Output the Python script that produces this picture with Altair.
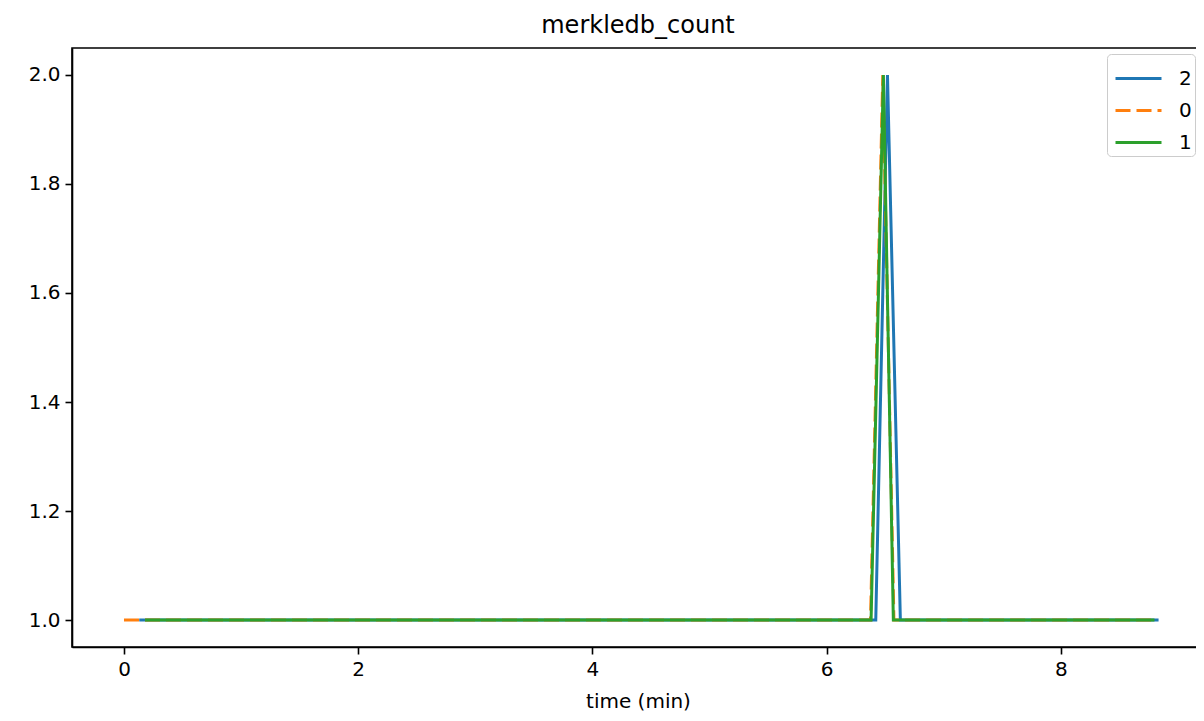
import altair as alt
import pandas as pd

# series "2" (blue)
t2 = [0.13, 6.42, 6.52, 6.63, 8.835]
v2 = [1.0, 1.0, 2.0, 1.0, 1.0]
# series "0" (orange, dashed)
t0 = [0.0, 6.375, 6.48, 6.575, 8.80]
v0 = [1.0, 1.0, 2.0, 1.0, 1.0]
# series "1" (green)
t1 = [0.18, 6.38, 6.485, 6.57, 8.80]
v1 = [1.0, 1.0, 2.0, 1.0, 1.0]

series_order = ["2", "0", "1"]
colors = ["#1f77b4", "#ff7f0e", "#2ca02c"]
dashes = [[1, 0], [15, 6], [1, 0]]

rows = []
for name, ts, vs in [("2", t2, v2), ("0", t0, v0), ("1", t1, v1)]:
    for i, (t, v) in enumerate(zip(ts, vs)):
        rows.append({"series": name, "time": t, "value": v, "i": i})
df = pd.DataFrame(rows)

FONT = "DejaVu Sans"
xscale = alt.Scale(domain=[-0.444, 9.223], nice=False, zero=False)

x = alt.X("time:Q", title="time (min)", scale=xscale,
          axis=alt.Axis(values=[0, 2, 4, 6, 8], format="d", grid=False,
                        tickSize=7, tickWidth=1.6, domainWidth=1.6,
                        domainColor="black", tickColor="black",
                        labelFontSize=20, labelColor="black", labelFont=FONT,
                        labelPadding=5, titleFontSize=20, titleFont=FONT,
                        titleFontWeight="normal", titleColor="black",
                        titlePadding=12))
y = alt.Y("value:Q", title=None,
          scale=alt.Scale(domain=[0.9505, 2.0495], nice=False, zero=False),
          axis=alt.Axis(values=[1.0, 1.2, 1.4, 1.6, 1.8, 2.0], format=".1f",
                        grid=False, tickSize=7, tickWidth=1.6, domainWidth=1.6,
                        domainColor="black", tickColor="black",
                        labelFontSize=20, labelColor="black", labelFont=FONT,
                        labelPadding=5))
color = alt.Color("series:N",
                  scale=alt.Scale(domain=series_order, range=colors),
                  sort=series_order,
                  legend=alt.Legend(title=None, orient="none",
                                    legendX=1035, legendY=6,
                                    symbolType="M-1.15,0H1.15", symbolSize=1600,
                                    symbolStrokeWidth=3, symbolOffset=7,
                                    labelFontSize=20, labelFont=FONT,
                                    labelColor="black", labelOffset=19,
                                    strokeColor="#cccccc", fillColor="white",
                                    cornerRadius=4, padding=3, rowPadding=0))
dash = alt.StrokeDash("series:N",
                      scale=alt.Scale(domain=series_order, range=dashes),
                      sort=series_order, legend=None)

layers = []
for name in series_order:
    layers.append(
        alt.Chart(df).transform_filter(alt.datum.series == name)
        .mark_line(strokeWidth=3, clip=True)
        .encode(x=x, y=y, color=color, strokeDash=dash, order="i:Q")
    )

chart = alt.layer(*layers).properties(
    width=1132, height=599,
    title=alt.TitleParams("merkledb_count", fontSize=24, font=FONT,
                          fontWeight="normal", color="black", offset=10),
    autosize=alt.AutoSizeParams(type="none"),
    padding={"left": 64, "top": 40, "right": -8, "bottom": 65},
).configure_view(stroke="black", strokeWidth=1.6)

chart.save("out.html", embed_options={"renderer": "svg", "actions": False})
